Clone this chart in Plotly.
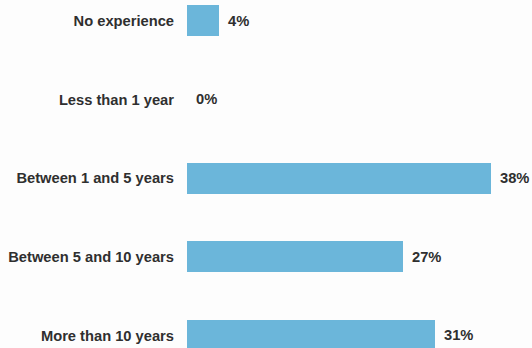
import plotly.graph_objects as go

# Years of experience survey results
categories = [
    "No experience",
    "Less than 1 year",
    "Between 1 and 5 years",
    "Between 5 and 10 years",
    "More than 10 years",
]
percentages = [4, 0, 38, 27, 31]
value_labels = [f"{v}%" for v in percentages]

positions = list(range(len(categories)))

BAR_COLOR = "#6BB6DA"
TEXT_COLOR = "#2f2f2f"
FONT = "Liberation Sans, Arial, Helvetica, sans-serif"
FONT_SIZE = 14.7

fig = go.Figure()
fig.add_trace(
    go.Bar(
        x=percentages,
        y=positions,
        orientation="h",
        width=0.394,
        marker=dict(color=BAR_COLOR, line=dict(width=0)),
        hoverinfo="skip",
    )
)

# Value labels to the right of each bar
for pos, val, lab in zip(positions, percentages, value_labels):
    fig.add_annotation(
        x=val,
        y=pos,
        xref="x",
        yref="y",
        text=f"<b>{lab}</b>",
        showarrow=False,
        xanchor="left",
        yanchor="middle",
        xshift=7,
        font=dict(family=FONT, size=FONT_SIZE, color=TEXT_COLOR),
    )

fig.update_layout(
    width=532,
    height=348,
    margin=dict(l=187, r=0, t=0, b=0),
    paper_bgcolor="#fdfdfd",
    plot_bgcolor="#fdfdfd",
    showlegend=False,
    bargap=0,
    xaxis=dict(
        range=[0, 43.1],
        visible=False,
        showgrid=False,
        zeroline=False,
        fixedrange=True,
    ),
    yaxis=dict(
        range=[4.159, -0.264],
        tickmode="array",
        tickvals=positions,
        ticktext=[f"<b>{c}</b>" for c in categories],
        tickfont=dict(family=FONT, size=FONT_SIZE, color=TEXT_COLOR),
        ticks="",
        ticklabelstandoff=12,
        showgrid=False,
        zeroline=False,
        showline=False,
        fixedrange=True,
    ),
)

fig.write_html("out.html")
